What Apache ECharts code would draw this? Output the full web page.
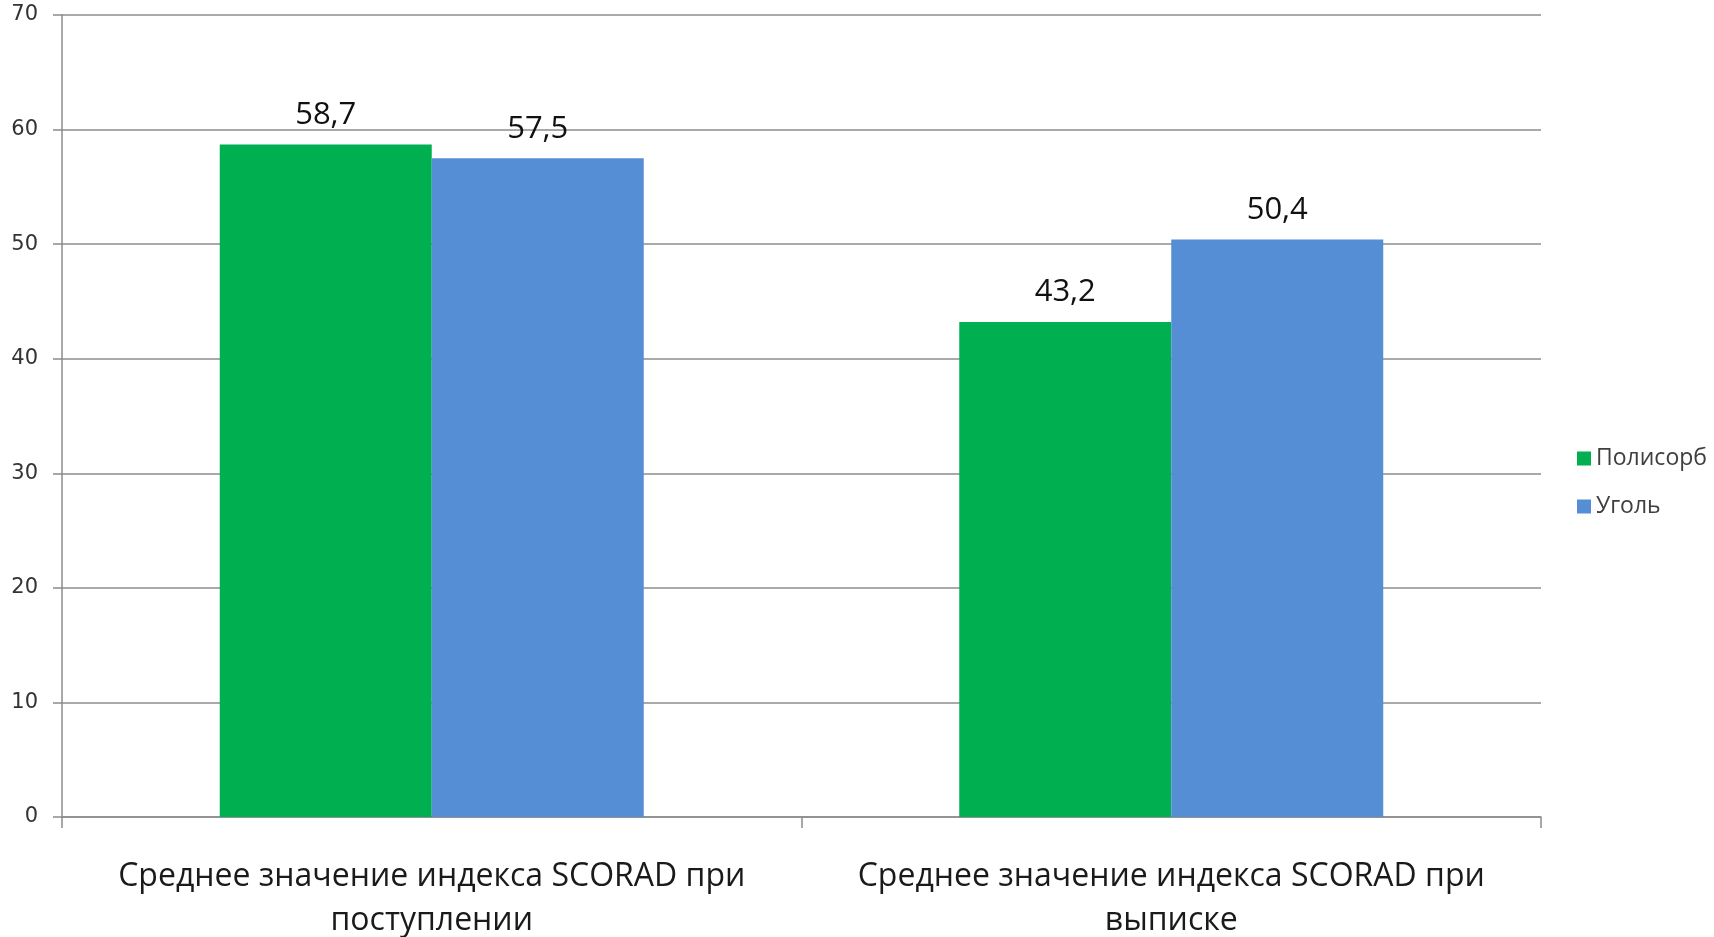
<!DOCTYPE html>
<html>
<head>
<meta charset="utf-8">
<script src="https://cdn.jsdelivr.net/npm/echarts@6/dist/echarts.min.js"></script>
<style>
  html, body { margin: 0; padding: 0; background: #fff; }
  #chart { width: 1714px; height: 937px; }
</style>
</head>
<body>
<div id="chart"></div>
<script>
// SCORAD index: mean values on admission and at discharge
const categories = [
  'Среднее значение индекса SCORAD при\nпоступлении',
  'Среднее значение индекса SCORAD при\nвыписке'
];
const seriesNames = ['Полисорб', 'Уголь'];
const polysorbValues = [58.7, 43.2];
const coalValues = [57.5, 50.4];
const yTicks = { min: 0, max: 70, interval: 10 };

const font = '"Open Sans", "Noto Sans", sans-serif';
const tickFont = '"DejaVu Sans", Verdana, sans-serif';
const fmt = v => String(v).replace('.', ',');

const valueLabel = {
  show: true, position: 'top', distance: 14, formatter: p => fmt(p.value),
  fontFamily: font, fontSize: 31, color: '#111'
};

const chart = echarts.init(document.getElementById('chart'));
chart.setOption({
  animation: false,
  backgroundColor: '#ffffff',
  grid: { left: 62, right: 173, top: 15, bottom: 120, containLabel: false, outerBoundsMode: 'none' },
  legend: {
    orient: 'vertical',
    left: 1572,
    top: 442,
    itemWidth: 14,
    itemHeight: 14,
    itemGap: 25,
    icon: 'rect',
    textStyle: { fontFamily: font, fontSize: 23, color: '#404040' },
    data: seriesNames
  },
  xAxis: {
    type: 'category',
    data: categories,
    axisLine: { lineStyle: { color: '#8c8c8c', width: 1.5 } },
    axisTick: { show: true, interval: 0, length: 11, lineStyle: { color: '#8c8c8c', width: 1.5 } },
    axisLabel: {
      interval: 0, hideOverlap: false,
      fontFamily: font, fontSize: 32, color: '#1a1a1a',
      lineHeight: 44, margin: 38
    },
    splitLine: { show: false }
  },
  yAxis: {
    type: 'value',
    min: yTicks.min, max: yTicks.max, interval: yTicks.interval,
    axisLine: { show: true, lineStyle: { color: '#8c8c8c', width: 1.5 } },
    axisTick: { show: true, length: 9, lineStyle: { color: '#8c8c8c', width: 1.5 } },
    axisLabel: { fontFamily: tickFont, fontSize: 21, color: '#333', margin: 24 },
    splitLine: { lineStyle: { color: '#8c8c8c', width: 1.5 } }
  },
  series: [
    {
      name: seriesNames[0], type: 'bar', data: polysorbValues,
      barWidth: 212, barGap: '0%',
      itemStyle: { color: '#00B050' },
      label: valueLabel
    },
    {
      name: seriesNames[1], type: 'bar', data: coalValues,
      barWidth: 212, barGap: '0%',
      itemStyle: { color: '#558ED5' },
      label: valueLabel
    }
  ]
});
</script>
</body>
</html>
